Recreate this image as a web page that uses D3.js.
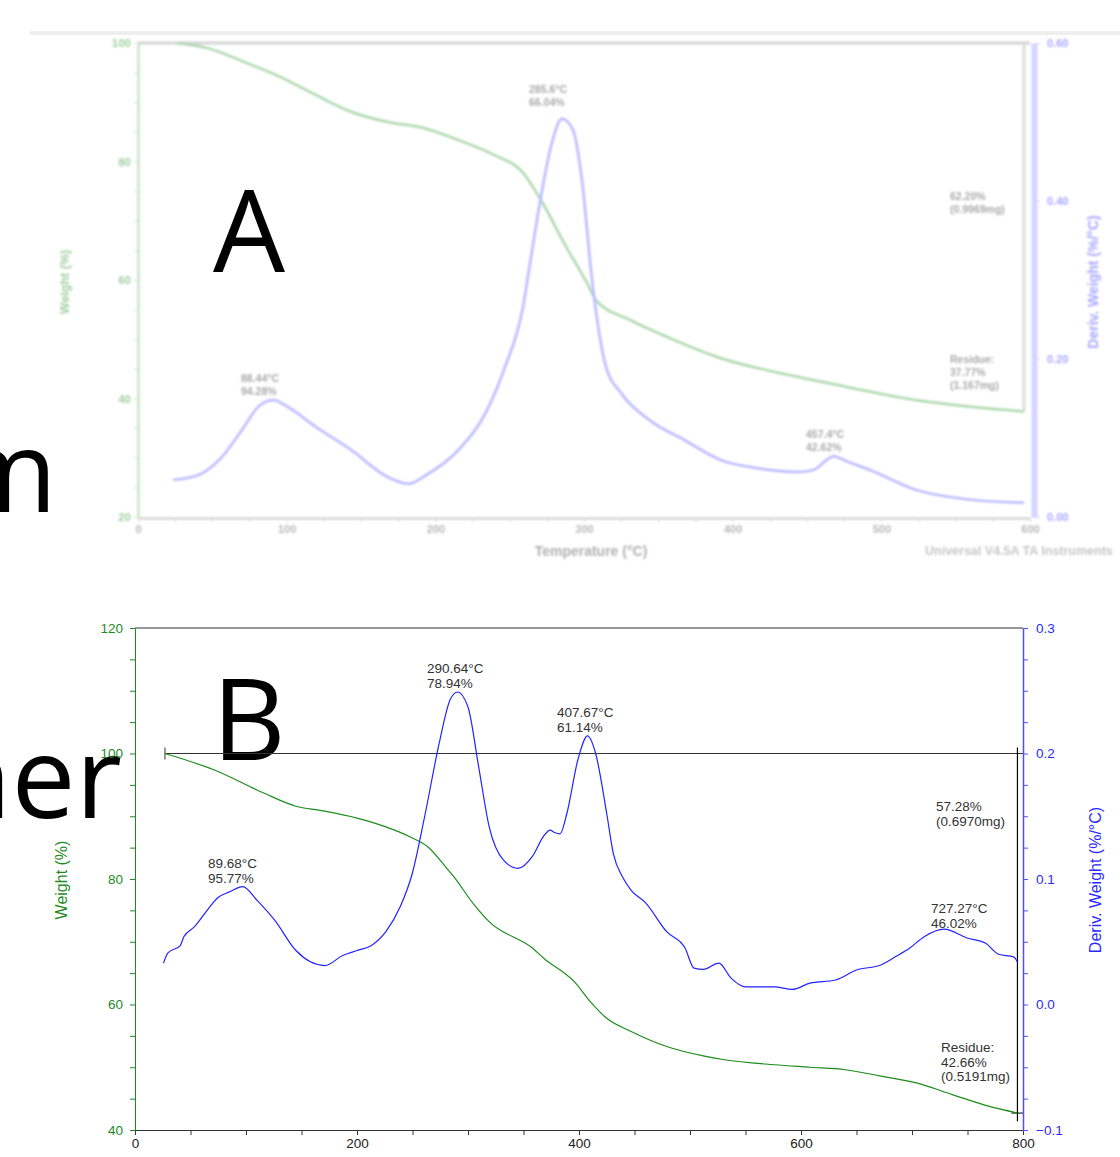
<!DOCTYPE html>
<html>
<head>
<meta charset="utf-8">
<script src="https://cdn.jsdelivr.net/npm/d3@7"></script>
<style>
    body { margin: 0; background: #fff; }
    svg { display: block; font-family: "Liberation Sans", Arial, sans-serif; }
</style>
</head>
<body>
<svg id="chart" width="1120" height="1157"></svg>
<script>
// ---------------- data: panel A (faded scan) ----------------
const weightA_T = [25.6, 47.5, 71.3, 95.5, 119.7, 143.3, 167.5, 191.7, 215.6, 239.5, 259, 271, 288, 302, 308, 331.6, 355.8, 392, 428, 476, 524, 560, 596];
const weightA_W = [100, 99.1, 96.8, 94.3, 91.2, 88.4, 86.7, 85.7, 83.6, 81.1, 78.1, 73.5, 65.6, 59.5, 56.6, 53.2, 50.4, 46.8, 44.5, 42.0, 39.7, 38.6, 37.8];
const derivA_T = [23.5, 40.4, 54.5, 71.3, 81.1, 90.8, 100.2, 119.7, 143.3, 167.5, 182, 193.7, 215.6, 234.7, 246.9, 259, 263.7, 271, 277.8, 285.2, 292.6, 298.6, 305.4, 314.8, 324.9, 343.7, 367.9, 392.1, 415.7, 445, 455, 463, 468, 476, 493, 524, 560, 596];
const derivA_D = [0.047, 0.053, 0.072, 0.114, 0.140, 0.148, 0.140, 0.114, 0.085, 0.051, 0.042, 0.053, 0.085, 0.135, 0.190, 0.266, 0.321, 0.405, 0.469, 0.504, 0.490, 0.427, 0.300, 0.190, 0.157, 0.123, 0.097, 0.072, 0.062, 0.057, 0.060, 0.072, 0.077, 0.071, 0.059, 0.034, 0.022, 0.018];
const xTicksA = [0, 100, 200, 300, 400, 500, 600];
const yTicksA = [20, 40, 60, 80, 100];
const yRightTicksA = [0, 0.2, 0.4, 0.6];
const annTextA = [["88.44°C", "94.28%"], ["285.6°C", "66.04%"], ["457.4°C", "42.62%"], ["62.20%", "(0.9969mg)"], ["Residue:", "37.77%", "(1.167mg)"]];

// ---------------- data: panel B ----------------
const weightB_T = [27, 71, 116, 145, 168, 200, 226, 248, 264, 280, 287, 306, 319, 358, 370, 383, 396, 409, 425, 447, 479, 512, 531, 576, 608, 640, 672, 704, 737, 769, 795];
const weightB_W = [100, 97.4, 93.7, 91.6, 90.9, 89.7, 88.3, 86.7, 85.1, 81.9, 80.4, 75.8, 73.2, 69.0, 67.1, 65.5, 63.6, 60.7, 57.8, 55.7, 53.3, 51.8, 51.2, 50.4, 50.0, 49.6, 48.6, 47.5, 45.6, 43.8, 42.7];
const derivB_T = [25.7, 29.5, 40.8, 44, 53.7, 65, 74.5, 85.8, 97, 110, 126, 145, 158, 171, 187, 200, 213, 226, 239, 250, 261, 274, 284, 290.6, 300, 309.5, 319, 332, 345, 358, 368, 374, 378, 383, 389, 399, 407.7, 415, 425, 431, 439, 447, 460, 479, 495.5, 503.6, 512, 526, 537, 550, 576, 592, 608, 631, 650, 672, 685, 698, 711, 729, 749.5, 766, 778, 791.5, 795];
const derivB_D = [0.033, 0.041, 0.047, 0.054, 0.062, 0.075, 0.085, 0.090, 0.094, 0.083, 0.067, 0.043, 0.034, 0.031, 0.039, 0.043, 0.047, 0.058, 0.078, 0.105, 0.150, 0.208, 0.243, 0.249, 0.237, 0.190, 0.142, 0.115, 0.1085, 0.118, 0.134, 0.139, 0.137, 0.136, 0.152, 0.195, 0.214, 0.200, 0.152, 0.120, 0.102, 0.091, 0.081, 0.058, 0.045, 0.029, 0.028, 0.033, 0.021, 0.014, 0.014, 0.012, 0.017, 0.0195, 0.0275, 0.0315, 0.038, 0.045, 0.054, 0.060, 0.053, 0.049, 0.040, 0.038, 0.034];
const xTicksB = [0, 200, 400, 600, 800];
const yTicksB = [40, 60, 80, 100, 120];
const yRightTicksB = [-0.1, 0.0, 0.1, 0.2, 0.3];
const annTextB = [["89.68°C", "95.77%"], ["290.64°C", "78.94%"], ["407.67°C", "61.14%"], ["727.27°C", "46.02%"], ["57.28%", "(0.6970mg)"], ["Residue:", "42.66%", "(0.5191mg)"]];

const svg = d3.select("#chart");
const GREEN = "#1f8a1f", BLUE = "#2a2aff", TEXT = "#333";

// big slide letters behind the charts
const slideText = svg.append("g")
    .attr("font-family", "'Open Sans', 'Liberation Sans', sans-serif")
    .attr("font-size", 114)
    .attr("fill", "#000");
slideText.append("text").attr("x", 57).attr("y", 512).attr("text-anchor", "end").text("m");
slideText.append("text").attr("x", 122).attr("y", 818).attr("text-anchor", "end").text("ner");

// thin slide edge line on top
svg.append("line")
    .attr("x1", 30).attr("x2", 1120).attr("y1", 33).attr("y2", 33)
    .attr("stroke", "#eeeeee").attr("stroke-width", 4);

function zipPts(a, b) {
    return a.map((d, i) => [d, b[i]]);
}

// ==============================================================
// Panel A : blurry, faded copy
let defs = svg.append("defs");
defs.append("filter").attr("id", "fuzz")
    .attr("x", "-5%").attr("y", "-5%").attr("width", "110%").attr("height", "110%")
    .append("feGaussianBlur").attr("stdDeviation", 1.1);

const xA = d3.scaleLinear().domain([0, 600]).range([138, 1030]);
const yA = d3.scaleLinear().domain([20, 100]).range([517, 43]);
const yAr = d3.scaleLinear().domain([0, 0.6]).range([517, 43]);

const gA = svg.append("g").attr("filter", "url(#fuzz)").attr("opacity", 0.42);

gA.append("g")
    .attr("transform", `translate(0,${yA(20) + 1})`)
    .call(d3.axisBottom(xA).tickValues(d3.range(0, 601, 25)).tickSize(4).tickSizeOuter(0)
        .tickFormat(d => xTicksA.includes(d) ? d : ""))
    .call(g => g.select(".domain").attr("stroke", "#888").attr("stroke-width", 2))
    .call(g => g.selectAll(".tick line").attr("stroke", "#999"))
    .call(g => g.selectAll("text").attr("fill", "#555").attr("font-size", 11).attr("font-weight", "bold"));

gA.append("g")
    .attr("transform", `translate(${xA(0)},0)`)
    .call(d3.axisLeft(yA).tickValues(d3.range(20, 101, 5)).tickSize(4).tickSizeOuter(0)
        .tickFormat(d => yTicksA.includes(d) ? d : ""))
    .call(g => g.select(".domain").attr("stroke", "#7fbf7f").attr("stroke-width", 2.5))
    .call(g => g.selectAll(".tick line").attr("stroke", "#7fbf7f"))
    .call(g => g.selectAll("text").attr("fill", GREEN).attr("font-size", 11.5).attr("font-weight", "bold"));

gA.append("g")
    .attr("transform", `translate(${xA(600) + 4},0)`)
    .call(d3.axisRight(yAr).tickValues(yRightTicksA).tickSize(6).tickSizeOuter(0)
        .tickFormat(d3.format(".2f")))
    .call(g => g.select(".domain").attr("stroke", "#9999ff").attr("stroke-width", 6))
    .call(g => g.selectAll(".tick line").attr("stroke", "#9999ff"))
    .call(g => g.selectAll("text").attr("fill", BLUE).attr("font-size", 11).attr("font-weight", "bold").attr("dx", 4));

// frame top + end marker
gA.append("line").attr("x1", xA(0)).attr("x2", xA(600)).attr("y1", yA(100)).attr("y2", yA(100))
    .attr("stroke", "#999").attr("stroke-width", 3);
gA.append("line").attr("x1", xA(596)).attr("x2", xA(596)).attr("y1", yA(100)).attr("y2", yA(37.8))
    .attr("stroke", "#aaa").attr("stroke-width", 3);

gA.append("path")
    .datum(zipPts(weightA_T, weightA_W))
    .attr("fill", "none").attr("stroke", "#3aa03a").attr("stroke-width", 2.5)
    .attr("d", d3.line().x(d => xA(d[0])).y(d => yA(d[1])).curve(d3.curveMonotoneX));

gA.append("path")
    .datum(zipPts(derivA_T, derivA_D))
    .attr("fill", "none").attr("stroke", "#5555ff").attr("stroke-width", 2.5)
    .attr("d", d3.line().x(d => xA(d[0])).y(d => yAr(d[1])).curve(d3.curveMonotoneX));

// annotation positions for A (left x, first line y)
const annPosA = [[241, 382], [529, 93], [806, 438], [950, 200], [950, 363]];
annTextA.forEach((lines, i) => {
    let t = gA.append("text").attr("fill", "#333").attr("font-size", 10.5).attr("font-weight", "bold");
    lines.forEach((s, j) => t.append("tspan").attr("x", annPosA[i][0]).attr("y", annPosA[i][1] + j * 13).text(s));
});

gA.append("text").attr("x", 591).attr("y", 556).attr("text-anchor", "middle")
    .attr("font-size", 14).attr("font-weight", "bold").attr("fill", "#444").text("Temperature (°C)");
gA.append("text").attr("x", 925).attr("y", 555)
    .attr("font-size", 12.5).attr("font-weight", "bold").attr("fill", "#777").text("Universal V4.5A TA Instruments");
gA.append("text").attr("transform", "translate(69,282) rotate(-90)").attr("text-anchor", "middle")
    .attr("font-size", 12.5).attr("font-weight", "bold").attr("fill", GREEN).text("Weight (%)");
gA.append("text").attr("transform", "translate(1098,282) rotate(-90)").attr("text-anchor", "middle")
    .attr("font-size", 14).attr("font-weight", "bold").attr("fill", BLUE).text("Deriv. Weight (%/°C)");

slideText.append("text").attr("x", 213).attr("y", 272).text("A");

// ==============================================================
// Panel B
const xB = d3.scaleLinear().domain([0, 800]).range([135, 1023]);
const yB = d3.scaleLinear().domain([40, 120]).range([1130, 628]);
const yBr = d3.scaleLinear().domain([-0.1, 0.3]).range([1130, 628]);

const gB = svg.append("g").attr("font-size", 13);

// top frame and 100 % reference line
gB.append("line").attr("x1", xB(0)).attr("x2", xB(800)).attr("y1", yB(120)).attr("y2", yB(120))
    .attr("stroke", TEXT).attr("stroke-width", 1);
gB.append("line").attr("x1", xB(weightB_T[0])).attr("x2", xB(800)).attr("y1", yB(100)).attr("y2", yB(100))
    .attr("stroke", TEXT).attr("stroke-width", 1);
gB.append("line").attr("x1", xB(weightB_T[0])).attr("x2", xB(weightB_T[0])).attr("y1", yB(100) - 6).attr("y2", yB(100) + 6)
    .attr("stroke", TEXT);
// step marker at the end of the run
let endT = weightB_T[weightB_T.length - 1];
gB.append("line").attr("x1", xB(endT)).attr("x2", xB(endT)).attr("y1", yB(100) - 6).attr("y2", yB(41.4))
    .attr("stroke", "#000").attr("stroke-width", 1.2);
gB.append("line").attr("x1", xB(endT) - 6).attr("x2", xB(endT) + 6).attr("y1", yB(42.7)).attr("y2", yB(42.7))
    .attr("stroke", "#000");

gB.append("g")
    .attr("transform", `translate(0,${yB(40)})`)
    .call(d3.axisBottom(xB).tickValues(d3.range(0, 801, 50)).tickSize(5).tickSizeOuter(0)
        .tickFormat(d => xTicksB.includes(d) ? d : ""))
    .call(g => g.select(".domain").attr("stroke", TEXT))
    .call(g => g.selectAll(".tick line").attr("stroke", TEXT))
    .call(g => g.selectAll("text").attr("fill", "#222").attr("font-size", 13.5));

gB.append("g")
    .attr("transform", `translate(${xB(0)},0)`)
    .call(d3.axisLeft(yB).tickValues(d3.range(40, 121, 5)).tickSize(5).tickPadding(7).tickSizeOuter(0)
        .tickFormat(d => yTicksB.includes(d) ? d : ""))
    .call(g => g.select(".domain").attr("stroke", GREEN))
    .call(g => g.selectAll(".tick line").attr("stroke", GREEN))
    .call(g => g.selectAll("text").attr("fill", GREEN).attr("font-size", 13.5));

gB.append("g")
    .attr("transform", `translate(${xB(800)},0)`)
    .call(d3.axisRight(yBr).tickValues(d3.range(0, 17).map(i => -0.1 + i * 0.025)).tickSize(5).tickPadding(8).tickSizeOuter(0)
        .tickFormat(d => yRightTicksB.some(v => Math.abs(v - d) < 1e-9) ? d3.format(".1f")(d) : ""))
    .call(g => g.select(".domain").attr("stroke", "#5050ff").attr("stroke-width", 1.5))
    .call(g => g.selectAll(".tick line").attr("stroke", "#5050ff"))
    .call(g => g.selectAll("text").attr("fill", BLUE).attr("font-size", 13.5));

gB.append("path")
    .datum(zipPts(weightB_T, weightB_W))
    .attr("fill", "none").attr("stroke", "#1c8c1c").attr("stroke-width", 1.2)
    .attr("d", d3.line().x(d => xB(d[0])).y(d => yB(d[1])).curve(d3.curveMonotoneX));

gB.append("path")
    .datum(zipPts(derivB_T, derivB_D))
    .attr("fill", "none").attr("stroke", "#2222ff").attr("stroke-width", 1.2)
    .attr("d", d3.line().x(d => xB(d[0])).y(d => yBr(d[1])).curve(d3.curveMonotoneX));

const annPosB = [[208, 868], [427, 673], [557, 717], [931, 913], [936, 811], [941, 1052]];
annTextB.forEach((lines, i) => {
    let t = gB.append("text").attr("fill", TEXT).attr("font-size", 13.5);
    lines.forEach((s, j) => t.append("tspan").attr("x", annPosB[i][0]).attr("y", annPosB[i][1] + j * 14.5).text(s));
});

gB.append("text").attr("transform", "translate(67,880) rotate(-90)").attr("text-anchor", "middle")
    .attr("font-size", 16).attr("fill", GREEN).text("Weight (%)");
gB.append("text").attr("transform", "translate(1101,880) rotate(-90)").attr("text-anchor", "middle")
    .attr("font-size", 16).attr("fill", BLUE).text("Deriv. Weight (%/°C)");

slideText.append("text").attr("x", 212).attr("y", 760).text("B");
</script>
</body>
</html>
